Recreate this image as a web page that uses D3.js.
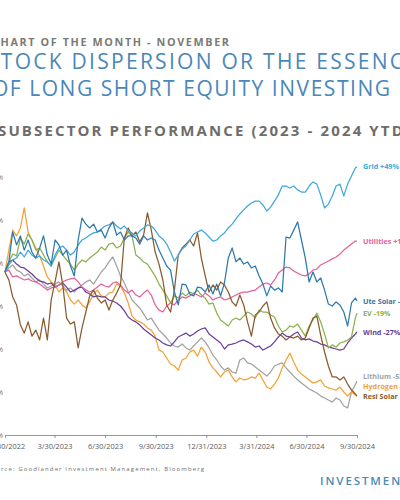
<!DOCTYPE html>
<html><head><meta charset="utf-8">
<script src="https://cdn.jsdelivr.net/npm/d3@7"></script>
<style>
html,body{margin:0;padding:0;background:#fff;overflow:hidden;}
svg{display:block;}
</style></head><body>
<svg id="c" width="400" height="500"></svg>
<script>
// ---------- DATA ----------
const startDate = "2022-12-30";
const endDate = "2024-09-30";
const stepDays = 7; // weekly observations, last one on endDate
const xTickLabels = ["12/30/2022","3/30/2023","6/30/2023","9/30/2023","12/31/2023","3/31/2024","6/30/2024","9/30/2024"];
const yTicks = [-80,-60,-40,-20,0,20,40];

const seriesNames = ["Grid","Utilities","Ute Solar","EV","Wind","Lithium","Hydrogen","Resi Solar"];
const seriesLabels = ["Grid +49%","Utilities +15%","Ute Solar -14%","EV -19%","Wind -27%","Lithium -53%","Hydrogen -60%","Resi Solar -61%"];

const grid = [-4.2,-0.9,1.4,2.3,5.1,2.8,6.0,3.7,2.3,3.3,
 1.4,0.5,-1.4,3.7,7.0,7.9,6.0,3.7,5.1,8.4,
 10.7,11.6,13.0,14.0,14.4,15.8,17.2,17.7,19.1,17.2,
 15.8,17.2,14.9,14.0,12.6,14.9,16.3,17.7,17.2,15.3,
 12.6,11.2,8.8,5.1,0.9,3.7,6.5,7.9,10.7,13.5,
 14.4,15.3,14.0,12.1,10.2,10.7,12.6,14.0,16.3,18.1,
 20.5,22.8,24.7,26.5,27.9,28.8,28.8,27.0,24.2,26.0,
 28.8,31.6,35.8,35.8,34.9,35.8,34.0,33.0,33.0,35.8,
 37.7,36.7,31.6,25.6,27.4,31.2,35.8,36.7,31.2,36.7,
 40.5,44.2,44.7];
const uteSolar = [-4.2,0.5,14.4,8.4,12.6,6.0,10.7,5.1,2.3,7.0,
 12.6,3.7,-0.5,10.7,8.4,3.7,6.0,-1.4,-6.0,10.7,
 20.9,18.1,16.3,18.1,14.4,15.3,11.6,16.3,19.1,13.0,
 14.4,10.7,12.6,12.6,11.6,8.8,12.6,10.7,11.6,10.7,
 6.0,2.3,-1.4,-3.3,-13.5,-19.5,-9.8,-10.2,-14.4,-15.3,
 -11.2,-11.6,-13.5,-10.2,-14.4,-9.8,-15.3,-9.3,2.3,7.0,
 0.5,2.3,-0.5,0.5,-2.3,-1.4,-6.0,-9.8,-15.3,-10.7,
 -12.6,-11.6,-13.5,12.1,11.6,15.3,19.1,10.7,2.3,-8.8,
 -4.2,-8.8,-7.0,-12.6,-19.1,-20.0,-18.1,-19.5,-22.8,-29.3,
 -18.6,-16.3,-17.7];
const ev = [-4.2,0.5,4.2,3.3,11.6,8.8,13.5,10.7,6.0,7.0,
 3.7,0.5,-1.4,2.3,6.0,3.7,1.4,-0.5,-3.3,-0.5,
 1.4,0.5,2.3,3.7,5.1,7.4,6.0,8.8,9.3,7.0,
 7.9,11.6,14.4,12.6,3.7,2.3,0.5,-0.5,-3.3,-6.0,
 -9.8,-12.6,-15.3,-18.6,-15.3,-16.3,-14.0,-15.3,-13.5,-14.4,
 -12.6,-14.9,-16.3,-19.1,-18.6,-23.3,-26.5,-27.9,-29.3,-26.5,
 -25.6,-26.5,-24.7,-22.8,-23.7,-25.6,-21.9,-22.8,-22.8,-24.2,
 -25.1,-29.3,-32.1,-31.2,-29.3,-29.8,-28.4,-31.2,-34.0,-29.3,
 -26.5,-23.3,-27.4,-33.0,-39.5,-38.1,-39.1,-37.2,-36.7,-35.8,
 -34.4,-25.6,-23.3];
const wind = [-4.2,0.5,1.4,-0.5,-1.9,-2.3,-3.7,-5.1,-7.0,-8.4,
 -8.8,-9.8,-9.3,-11.2,-10.2,-9.3,-11.2,-13.5,-12.6,-11.6,
 -11.2,-13.5,-14.4,-15.8,-15.3,-15.8,-15.8,-17.2,-17.7,-18.6,
 -20.0,-22.3,-25.1,-26.5,-27.4,-28.8,-30.7,-32.1,-33.5,-34.9,
 -35.8,-37.2,-38.1,-38.6,-36.7,-34.4,-33.5,-32.6,-34.0,-33.0,
 -31.6,-30.7,-30.2,-33.0,-34.4,-35.8,-37.2,-40.0,-38.1,-37.7,
 -37.2,-36.3,-35.8,-36.7,-37.7,-39.1,-38.6,-40.5,-39.5,-38.6,
 -36.7,-34.4,-32.6,-34.0,-34.4,-33.0,-32.1,-34.9,-35.8,-35.3,
 -36.3,-36.7,-37.7,-38.1,-39.1,-39.5,-40.0,-40.5,-40.0,-37.2,
 -34.9,-33.0,-32.1];
const lithium = [-4.2,-2.3,-0.9,-3.3,-4.2,-6.0,-5.1,-7.0,-8.8,-7.9,
 -9.8,-11.6,-10.7,-9.8,-8.8,-10.7,-12.6,-11.6,-13.5,-11.6,
 -10.2,-8.8,-7.9,-9.8,-7.0,-4.2,-2.3,0.5,2.8,-1.4,
 -6.0,-9.3,-13.5,-17.2,-19.1,-20.9,-23.7,-26.5,-25.6,-28.4,
 -31.2,-33.0,-34.9,-37.2,-38.6,-39.1,-37.7,-39.5,-40.5,-38.6,
 -36.7,-34.9,-36.7,-39.5,-42.8,-45.1,-47.9,-49.8,-48.8,-50.7,
 -51.2,-45.1,-44.2,-46.5,-47.0,-48.4,-49.8,-51.2,-52.6,-50.7,
 -47.9,-47.0,-46.5,-48.8,-50.7,-52.6,-54.4,-55.8,-57.2,-58.6,
 -59.5,-60.5,-61.9,-62.8,-63.7,-64.7,-62.8,-63.7,-66.5,-67.4,
 -60.0,-56.5,-55.0];
const hydrogen = [-4.2,6.0,15.3,12.6,16.3,25.6,14.4,10.7,7.0,3.3,
 -1.4,-6.5,-8.8,-10.2,-13.5,-11.6,-13.5,-17.2,-19.1,-17.2,
 -19.5,-20.9,-18.1,-14.4,-12.6,-15.3,-15.8,-14.0,-13.5,-9.8,
 -10.7,-14.0,-18.6,-24.7,-26.5,-27.4,-28.4,-30.2,-31.2,-34.0,
 -40.5,-41.4,-44.2,-47.0,-47.9,-49.8,-45.1,-44.2,-41.4,-40.5,
 -43.3,-39.1,-41.4,-46.0,-48.8,-50.7,-53.0,-50.7,-49.8,-53.0,
 -55.3,-53.5,-54.4,-54.0,-53.0,-53.5,-51.2,-54.4,-57.7,-58.6,
 -56.3,-53.5,-48.8,-45.1,-41.9,-46.0,-49.8,-51.6,-53.0,-54.4,
 -55.8,-55.3,-54.4,-57.2,-58.1,-58.6,-59.1,-57.7,-60.0,-61.9,
 -60.0,-61.4,-61.9];
const resiSolar = [-4.2,-7.9,-15.8,-19.5,-28.8,-32.6,-27.4,-34.0,-31.2,-35.8,
 -25.6,-35.8,-17.2,-8.8,0.5,-10.2,-25.6,-28.4,-27.4,-39.5,
 -30.2,-22.8,-15.3,-12.6,-16.3,-18.6,-17.2,-21.9,-17.2,-14.0,
 -10.2,11.6,16.3,12.6,14.4,9.8,13.0,23.3,15.3,5.1,
 -0.5,-7.9,-19.5,-22.8,-12.6,3.7,7.0,8.8,10.7,7.9,
 14.0,2.3,-6.0,-13.5,-10.2,-12.6,-8.8,-10.2,-13.5,-18.1,
 -20.0,-14.9,-19.5,-27.4,-34.0,-24.2,-22.8,-20.0,-18.1,-25.6,
 -30.2,-33.0,-34.0,-35.8,-34.4,-34.9,-34.0,-35.8,-34.9,-30.2,
 -25.6,-24.7,-33.5,-41.4,-47.9,-53.0,-53.0,-54.4,-53.0,-56.3,
 -59.1,-60.9,-61.9];
const utilities = [-4.2,-3.3,-6.5,-6.0,-7.0,-7.9,-7.4,-8.4,-8.8,-9.8,
 -11.2,-12.6,-11.6,-11.2,-10.2,-8.8,-7.9,-7.4,-7.0,-8.8,
 -11.2,-12.6,-13.5,-12.6,-11.2,-9.8,-10.7,-11.2,-9.3,-8.8,
 -10.2,-12.6,-14.0,-12.6,-14.9,-15.8,-14.0,-12.6,-14.9,-19.5,
 -21.9,-22.8,-20.0,-18.6,-19.5,-17.2,-15.8,-16.3,-15.3,-14.0,
 -14.9,-15.8,-14.0,-15.3,-17.2,-16.3,-15.8,-17.2,-16.7,-15.8,
 -14.9,-14.0,-13.5,-13.5,-13.0,-12.6,-11.2,-9.8,-9.3,-10.2,
 -7.9,-4.7,-3.3,-1.9,-2.3,-3.7,-4.7,-5.6,-6.0,-5.1,
 -3.3,-2.8,-0.9,0.0,0.9,1.9,2.8,4.2,6.0,7.4,
 8.8,10.2,10.2];

const seriesColors = ["#3ea8da","#e4619b","#2d78ad","#8cb04c","#6a3f9e","#a2a2a2","#f2a236","#8a5a2c"];
const seriesValues = [grid, utilities, uteSolar, ev, wind, lithium, hydrogen, resiSolar];
const drawOrder = [5,6,4,1,3,7,0,2];

// ---------- CHART ----------
const svg = d3.select("#c");
const parse = d3.utcParse("%Y-%m-%d");
const t0 = parse(startDate), t1 = parse(endDate);
const n = grid.length;
const dates = d3.range(n - 1).map(k => d3.utcDay.offset(t0, stepDays * k)).concat([t1]);

const x = d3.scaleUtc().domain([t0, t1]).range([5, 357]);
const y = d3.scaleLinear().domain([-80, 40]).range([435, 177]);

// titles
svg.append("text").attr("x", -8).attr("y", 46)
  .attr("textLength", 237).attr("lengthAdjust", "spacing")
  .style("font-family", "'Open Sans', sans-serif").style("font-weight", 700)
  .style("font-size", "10.8px").attr("fill", "#7a7a77")
  .text("CHART OF THE MONTH - NOVEMBER");
svg.append("text").attr("x", -13).attr("y", 68.5)
  .attr("textLength", 430).attr("lengthAdjust", "spacing")
  .style("font-family", "'Open Sans', sans-serif").style("font-weight", 400)
  .style("font-size", "21px").attr("fill", "#4a87b9")
  .text("STOCK DISPERSION OR THE ESSENCE");
svg.append("text").attr("x", -8).attr("y", 95.5)
  .attr("textLength", 398).attr("lengthAdjust", "spacing")
  .style("font-family", "'Open Sans', sans-serif").style("font-weight", 400)
  .style("font-size", "21px").attr("fill", "#4a87b9")
  .text("OF LONG SHORT EQUITY INVESTING");
svg.append("text").attr("x", -2).attr("y", 136)
  .attr("textLength", 412).attr("lengthAdjust", "spacing")
  .style("font-family", "'Open Sans', sans-serif").style("font-weight", 700)
  .style("font-size", "15px").attr("fill", "#6d6d6b")
  .text("SUBSECTOR PERFORMANCE (2023 - 2024 YTD)");

// x axis
const tickDates = xTickLabels.map(s => d3.utcParse("%m/%d/%Y")(s));
const xAxis = svg.append("g").attr("transform", "translate(0,435)")
  .call(d3.axisBottom(x).tickValues(tickDates).tickFormat((d, i) => xTickLabels[i])
    .tickSizeInner(3).tickSizeOuter(0));
xAxis.select(".domain").attr("stroke", "#8a8a8a").attr("stroke-width", 0.9);
xAxis.selectAll(".tick line").attr("stroke", "#8a8a8a").attr("stroke-width", 0.9);
xAxis.selectAll(".tick text").attr("y", 9).attr("fill", "#5a5a5a")
  .style("font-family", "'Open Sans', sans-serif").style("font-size", "7.4px");

// y axis (labels only)
const yAxis = svg.append("g").attr("transform", "translate(5,0)")
  .call(d3.axisLeft(y).tickValues(yTicks).tickFormat(d => d + "%").tickSize(0).tickPadding(2));
yAxis.select(".domain").remove();
yAxis.selectAll(".tick text").attr("fill", "#777")
  .style("font-family", "'Open Sans', sans-serif").style("font-size", "7.4px");

// lines
const line = d3.line().x((d, i) => x(dates[i])).y(d => y(d));
const g = svg.append("g");
drawOrder.forEach(si => {
  g.append("path").datum(seriesValues[si])
    .attr("d", line).attr("fill", "none")
    .attr("stroke", seriesColors[si]).attr("stroke-width", 1.25)
    .attr("stroke-linejoin", "round");
});

// end labels with collision avoidance (bottom-up)
const labelY = seriesValues.map(v => y(v[v.length - 1]));
for (let i = labelY.length - 2; i >= 0; i--) {
  if (labelY[i] > labelY[i + 1] - 10) labelY[i] = labelY[i + 1] - 10;
}
seriesLabels.forEach((lab, i) => {
  svg.append("text").attr("x", 363).attr("y", labelY[i]).attr("dy", "0.35em")
    .attr("fill", seriesColors[i])
    .style("font-family", "'Open Sans', sans-serif").style("font-weight", 700)
    .style("font-size", "7.2px").text(lab);
});

// footer
svg.append("text").attr("x", -13).attr("y", 471)
  .attr("textLength", 217).attr("lengthAdjust", "spacing")
  .style("font-family", "'Open Sans', sans-serif").style("font-size", "6px")
  .attr("fill", "#6f6f6f")
  .text("Source: Goodlander Investment Management, Bloomberg");
svg.append("text").attr("x", 320).attr("y", 485)
  .style("font-family", "'Open Sans', sans-serif").style("font-weight", 600)
  .style("font-size", "11.5px").style("letter-spacing", "1.9px")
  .attr("fill", "#4a8bb4")
  .text("INVESTMENTS");
</script>
</body></html>
